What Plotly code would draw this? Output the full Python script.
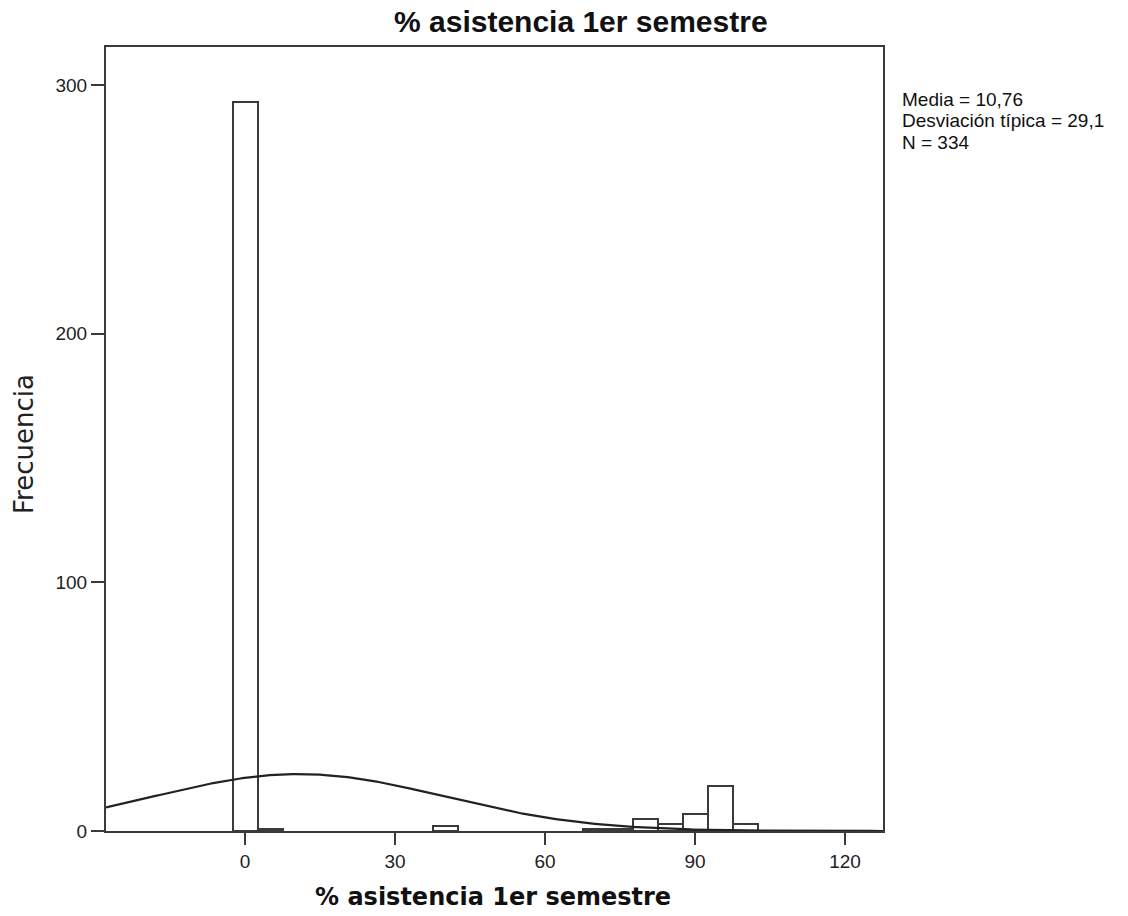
import numpy as np
import plotly.graph_objects as go

# Histogram data (bin centers, bin width 5)
bin_centers = [0, 5, 40, 70, 75, 80, 85, 90, 95, 100]
counts = [293, 1, 2, 1, 1, 5, 3, 7, 18, 3]
bin_width = 5

mean_val = 10.76
sd_val = 29.1
n_val = 334

x_ticks = [0, 30, 60, 90, 120]
y_ticks = [0, 100, 200, 300]

X_RANGE = [-27.8, 127.6]
Y_RANGE = [0, 315.3]

# Normal curve from stated statistics
xc = np.linspace(X_RANGE[0], X_RANGE[1], 400)
yc = n_val * bin_width * np.exp(-0.5 * ((xc - mean_val) / sd_val) ** 2) / (sd_val * np.sqrt(2 * np.pi))

FONT = "Liberation Sans, Arial, sans-serif"
WIDE = "DejaVu Sans, Verdana, sans-serif"

W, H = 1128, 916
L, R, T, B = 106, 883, 47, 831


def px(x):
    return (x - L) / (R - L)


def py(y):
    return (B - y) / (B - T)


fig = go.Figure()
fig.add_trace(go.Bar(
    x=bin_centers, y=counts, width=bin_width,
    marker=dict(color="white", line=dict(color="#3a3a3a", width=2)),
    hoverinfo="x+y", showlegend=False,
))
fig.add_trace(go.Scatter(
    x=xc, y=yc, mode="lines",
    line=dict(color="#222222", width=2.2), showlegend=False,
))

fig.update_layout(
    width=W, height=H,
    margin=dict(l=L, r=W - R, t=T, b=H - B),
    paper_bgcolor="white", plot_bgcolor="white",
    font=dict(family=FONT, color="#222222"),
    bargap=0,
)
axis_common = dict(
    showgrid=False, zeroline=False, showline=True, linecolor="#3a3a3a", linewidth=2,
    mirror=True, ticks="outside", ticklen=13, tickwidth=2, tickcolor="#3a3a3a",
    tickfont=dict(size=19, family=FONT, color="#222222"), automargin=False,
)
fig.update_xaxes(range=X_RANGE, tickvals=x_ticks, ticktext=[str(v) for v in x_ticks], **axis_common)
fig.update_yaxes(range=Y_RANGE, tickvals=y_ticks, ticktext=[str(v) for v in y_ticks], **axis_common)
fig.update_xaxes(ticklen=12)

# Title
fig.add_annotation(
    x=px(581), y=py(22), xref="paper", yref="paper",
    text="<b>% asistencia 1er semestre</b>", showarrow=False,
    font=dict(size=30, family=FONT, color="#111111"), xanchor="center", yanchor="middle",
)
# X-axis title
fig.add_annotation(
    x=px(493), y=py(897), xref="paper", yref="paper",
    text="<b>% asistencia 1er semestre</b>", showarrow=False,
    font=dict(size=24, family=WIDE, color="#111111"), xanchor="center", yanchor="middle",
)
# Y-axis title
fig.add_annotation(
    x=px(24), y=py(444), xref="paper", yref="paper",
    text="Frecuencia", showarrow=False, textangle=-90,
    font=dict(size=26, family=WIDE, color="#222222"), xanchor="center", yanchor="middle",
)
# Stats box (one line per annotation for tight line spacing)
stats_lines = [
    f"Media = {str(mean_val).replace('.', ',')}",
    f"Desviación típica = {str(sd_val).replace('.', ',')}",
    f"N = {n_val}",
]
for i, line in enumerate(stats_lines):
    fig.add_annotation(
        x=px(900), y=py(100 + 21 * i), xref="paper", yref="paper",
        text=line, showarrow=False, align="left", xanchor="left", yanchor="middle",
        font=dict(size=19, family=FONT, color="#111111"),
    )

fig.write_html("out.html", config={"displayModeBar": False},
               post_script="document.body.style.margin='0';")
